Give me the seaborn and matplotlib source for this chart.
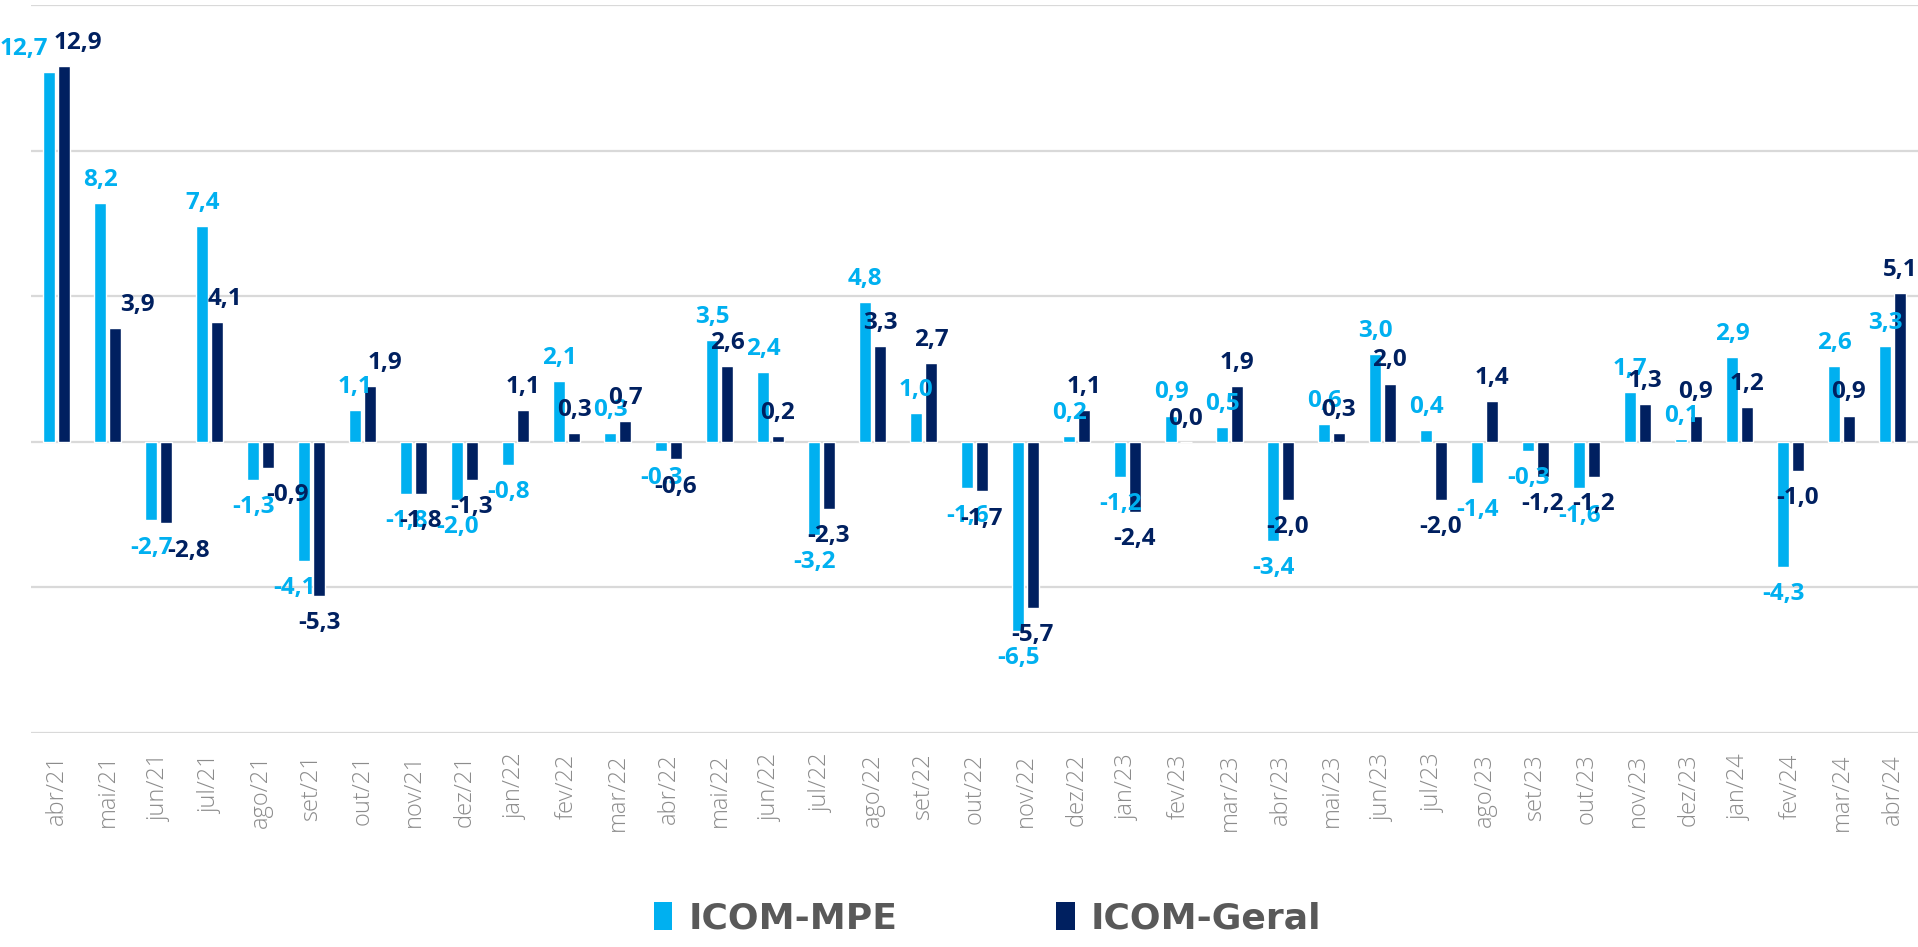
import matplotlib
matplotlib.use("Agg")
import matplotlib.pyplot as plt
from matplotlib.patches import Patch
import seaborn as sns
import pandas as pd

# -----------------------------
# Data (monthly % change)
# -----------------------------
months = ["abr/21", "mai/21", "jun/21", "jul/21", "ago/21", "set/21", "out/21", "nov/21",
          "dez/21", "jan/22", "fev/22", "mar/22", "abr/22", "mai/22", "jun/22", "jul/22",
          "ago/22", "set/22", "out/22", "nov/22", "dez/22", "jan/23", "fev/23", "mar/23",
          "abr/23", "mai/23", "jun/23", "jul/23", "ago/23", "set/23", "out/23", "nov/23",
          "dez/23", "jan/24", "fev/24", "mar/24", "abr/24"]
icom_mpe = [12.7, 8.2, -2.7, 7.4, -1.3, -4.1, 1.1, -1.8,
            -2.0, -0.8, 2.1, 0.3, -0.3, 3.5, 2.4, -3.2,
            4.8, 1.0, -1.6, -6.5, 0.2, -1.2, 0.9, 0.5,
            -3.4, 0.6, 3.0, 0.4, -1.4, -0.3, -1.6, 1.7,
            0.1, 2.9, -4.3, 2.6, 3.3]
icom_geral = [12.9, 3.9, -2.8, 4.1, -0.9, -5.3, 1.9, -1.8,
              -1.3, 1.1, 0.3, 0.7, -0.6, 2.6, 0.2, -2.3,
              3.3, 2.7, -1.7, -5.7, 1.1, -2.4, 0.0, 1.9,
              -2.0, 0.3, 2.0, -2.0, 1.4, -1.2, -1.2, 1.3,
              0.9, 1.2, -1.0, 0.9, 5.1]
series = ["ICOM-MPE", "ICOM-Geral"]
colors = ["#00B0F0", "#002060"]

# a few labels were nudged sideways in the original (points)
label_nudge = {
    (0, "abr/21"): -18, (1, "abr/21"): 10, (1, "mai/21"): 16, (1, "jun/21"): 16,
    (1, "jul/21"): 6, (1, "ago/21"): 14, (0, "set/21"): -7, (1, "out/21"): 11,
}

df = pd.DataFrame({
    "mes": months * 2,
    "serie": [series[0]] * len(months) + [series[1]] * len(months),
    "valor": icom_mpe + icom_geral,
})

# -----------------------------
# Plot
# -----------------------------
sns.set_style("white")
plt.rcParams["font.family"] = ["Open Sans", "DejaVu Sans"]

fig = plt.figure(figsize=(19.18, 9.47), dpi=100)
ax = fig.add_axes([0.0162, 0.226, 0.9838, 0.7687])

sns.barplot(data=df, x="mes", y="valor", hue="serie", order=months,
            hue_order=series, palette=colors, width=0.58, gap=0.18,
            saturation=1, ax=ax, legend=False)

ax.set_ylim(-10, 15)
ax.set_xlim(-0.5, len(months) - 0.5)
ax.set_yticks([-10, -5, 0, 5, 10, 15])
ax.set_yticklabels([])
ax.yaxis.grid(True, color="#D9D9D9", linewidth=1.6)
ax.set_axisbelow(True)
for s in ax.spines.values():
    s.set_visible(False)
ax.set_xlabel("")
ax.set_ylabel("")
ax.tick_params(axis="x", length=0, pad=15, labelsize=17, labelcolor="#8C8C8C",
               labelrotation=90)
ax.tick_params(axis="y", length=0)
for t in ax.get_xticklabels():
    t.set_fontweight("light")

# value labels
for i, (cont, col) in enumerate(zip(ax.containers, colors)):
    for bar, m in zip(cont, months):
        v = bar.get_height()
        x = bar.get_x() + bar.get_width() / 2
        dx = label_nudge.get((i, m), 0)
        txt = f"{v:.1f}".replace(".", ",")
        if v >= 0:
            ax.annotate(txt, (x, v), xytext=(dx, 8), textcoords="offset points",
                        ha="center", va="bottom", color=col, fontsize=17.5,
                        fontweight="bold")
        else:
            ax.annotate(txt, (x, v), xytext=(dx, -11), textcoords="offset points",
                        ha="center", va="top", color=col, fontsize=17.5,
                        fontweight="bold")

# legend
handles = [Patch(facecolor=c, edgecolor="none", label=s) for s, c in zip(series, colors)]
leg = fig.legend(handles=handles, loc="lower center", bbox_to_anchor=(0.515, -0.022),
                 ncol=2, frameon=False, handlelength=0.5, handleheight=0.8,
                 handletextpad=0.45, columnspacing=4.4,
                 prop={"family": ["Liberation Sans Narrow", "DejaVu Sans"],
                       "weight": "bold", "size": 26})
for t in leg.get_texts():
    t.set_color("#595959")

plt.savefig("out.png", dpi=100)
plt.close()
